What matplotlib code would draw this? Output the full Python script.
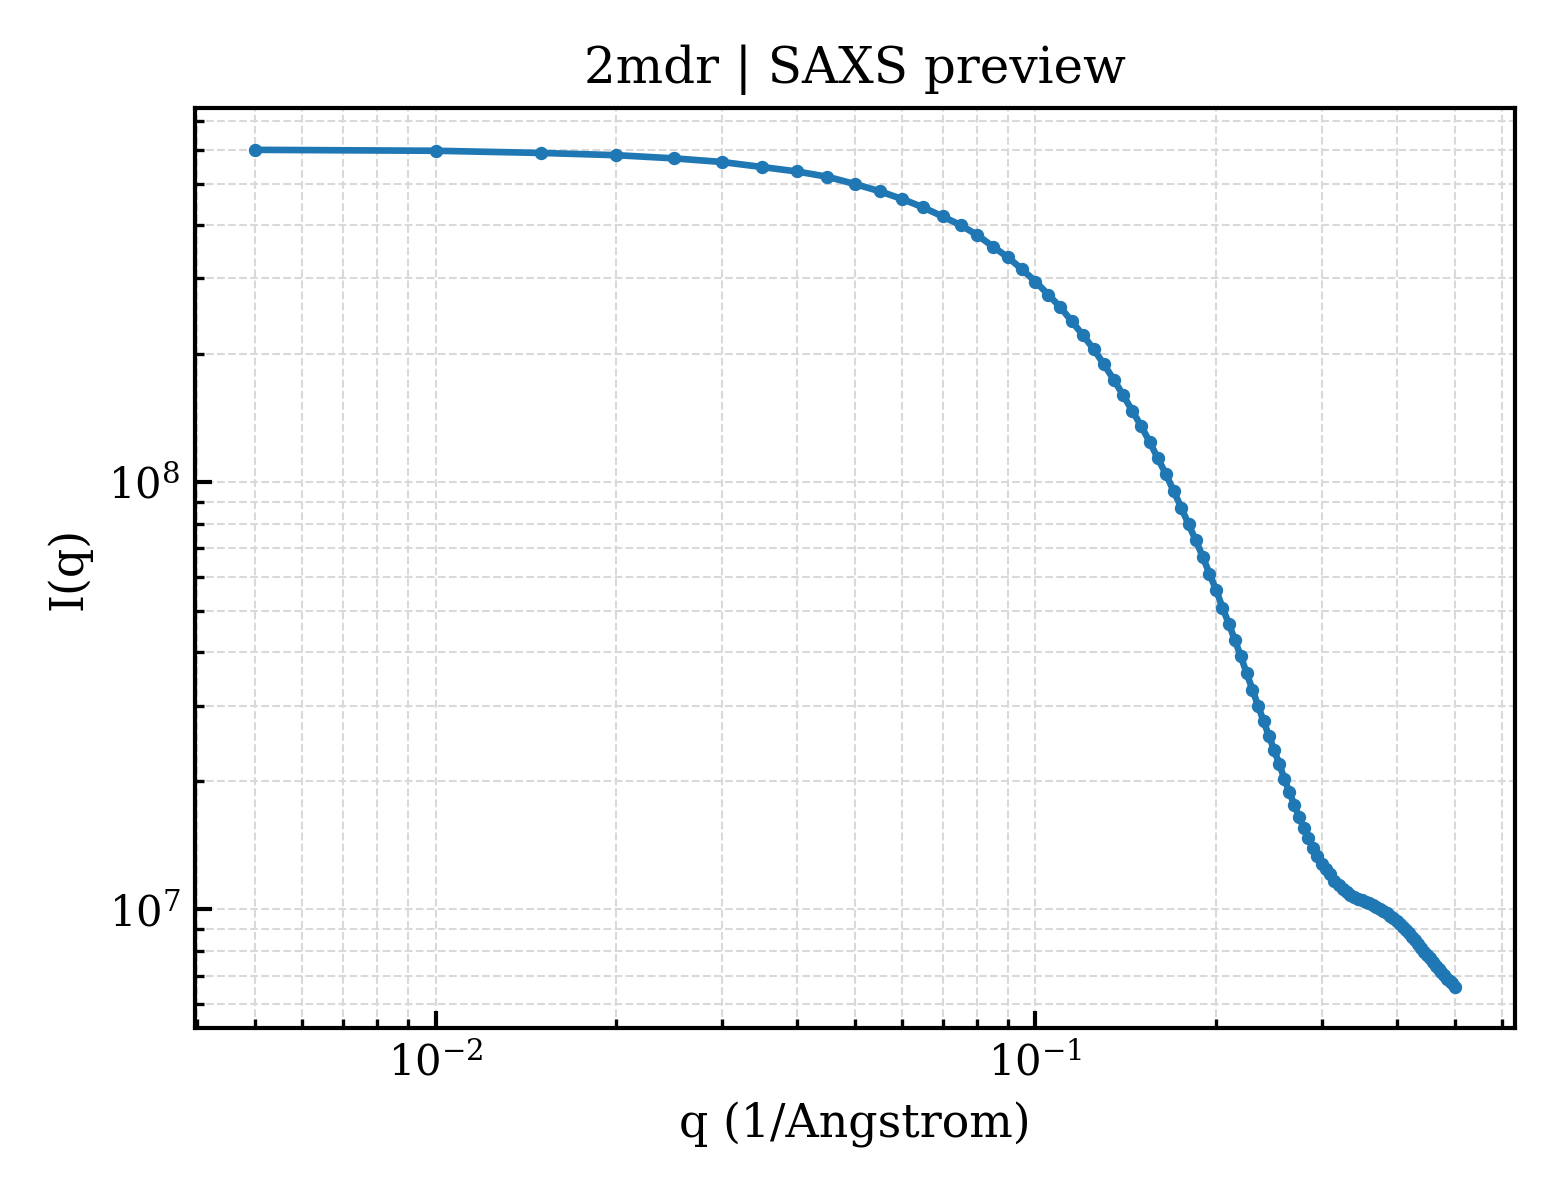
import numpy as np
import matplotlib
matplotlib.use('Agg')
import matplotlib.pyplot as plt

plt.rcParams['font.family'] = 'DejaVu Serif'
plt.rcParams['mathtext.fontset'] = 'dejavuserif'

# Scattering vector, 1/Angstrom
q = np.round(np.arange(1, 101) * 0.005, 3)

I_q = [
    6.00e8, 5.97e8, 5.90e8, 5.83e8, 5.73e8, 5.62e8, 5.47e8, 5.34e8, 5.19e8, 4.99e8,
    4.80e8, 4.60e8, 4.40e8, 4.19e8, 4.00e8, 3.79e8, 3.56e8, 3.36e8, 3.15e8, 2.95e8,
    2.75e8, 2.57e8, 2.38e8, 2.21e8, 2.05e8, 1.89e8, 1.74e8, 1.60e8, 1.47e8, 1.355e8,
    1.243e8, 1.137e8, 1.044e8, 9.54e7, 8.72e7, 7.97e7, 7.32e7, 6.70e7, 6.11e7, 5.60e7,
    5.09e7, 4.67e7, 4.27e7, 3.91e7, 3.57e7, 3.27e7, 3.00e7, 2.76e7, 2.55e7, 2.36e7,
    2.19e7, 2.02e7, 1.88e7, 1.76e7, 1.65e7, 1.55e7, 1.47e7, 1.395e7, 1.333e7, 1.281e7,
    1.241e7, 1.208e7, 1.169e7, 1.138e7, 1.117e7, 1.099e7, 1.081e7, 1.070e7, 1.058e7, 1.050e7,
    1.041e7, 1.033e7, 1.024e7, 1.014e7, 1.003e7, 9.92e6, 9.79e6, 9.68e6, 9.55e6, 9.42e6,
    9.27e6, 9.12e6, 8.95e6, 8.79e6, 8.62e6, 8.46e6, 8.28e6, 8.12e6, 7.97e6, 7.82e6,
    7.68e6, 7.53e6, 7.39e6, 7.25e6, 7.12e6, 7.01e6, 6.89e6, 6.80e6, 6.71e6, 6.60e6,
]

fig, ax = plt.subplots(figsize=(5.2, 4), dpi=300)
fig.subplots_adjust(left=0.125, right=0.971, top=0.91, bottom=0.143)

ax.plot(q, I_q, color='#1f77b4', lw=1.6, marker='o', ms=2.2)
ax.set_xscale('log')
ax.set_yscale('log')

ax.set_xlabel('q (1/Angstrom)', fontsize=11)
ax.set_ylabel('I(q)', fontsize=11)
ax.set_title('2mdr | SAXS preview', fontsize=12)

ax.grid(True, which='both', ls='--', lw=0.5, color='#d9d9d9')
ax.tick_params(which='both', direction='in', labelsize=10)
ax.tick_params(which='major', length=4, width=1.0)
ax.tick_params(which='minor', length=2.2, width=0.8)
for s in ax.spines.values():
    s.set_linewidth(1.0)

fig.savefig('out.png', dpi=300)
